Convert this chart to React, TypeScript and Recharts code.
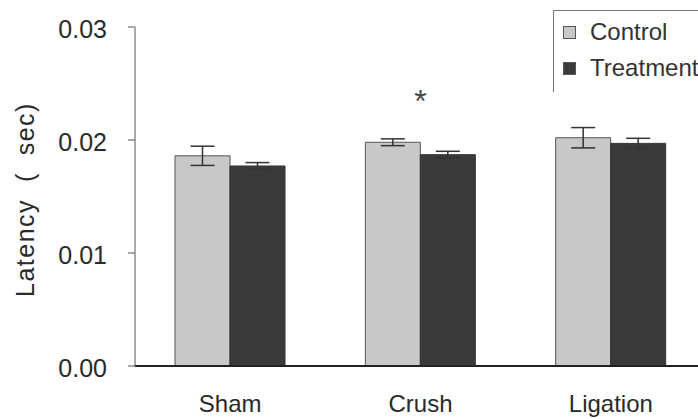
import React from 'react';
import { BarChart, Bar, XAxis, YAxis, ErrorBar, Legend, ReferenceDot } from 'recharts';

const groups = ['Sham', 'Crush', 'Ligation'];
const controlMean = [0.0186, 0.0198, 0.0202];
const controlErr = [0.00085, 0.0003, 0.0009];
const treatmentMean = [0.0177, 0.0187, 0.0197];
const treatmentErr = [0.0003, 0.0003, 0.00045];
const yTicks = [0, 0.01, 0.02, 0.03];
const significance = ['', '*', ''];
const seriesNames = ['Control', 'Treatment'];

const data = groups.map((g, i) => ({
  group: g,
  control: controlMean[i],
  controlErr: controlErr[i],
  treatment: treatmentMean[i],
  treatmentErr: treatmentErr[i],
}));

const FONT = '"Liberation Sans", Arial, sans-serif';
const TEXT = '#2a2a2a';
const CONTROL_FILL = '#c8c8c8';
const TREAT_FILL = '#3a3a3a';
const STAR_Y = 0.0235;

const LegendBox = (props: any) => {
  const payload = props.payload || [];
  return (
    <div
      style={{
        borderTop: '1px solid #777',
        borderLeft: '1px solid #777',
        padding: '3px 0 6px 9px',
        fontFamily: FONT,
        fontSize: 24,
        color: '#333',
        height: 82,
        boxSizing: 'border-box',
        background: '#fff',
      }}
    >
      {payload.map((p: any, i: number) => (
        <div key={i} style={{ display: 'flex', alignItems: 'center', height: 36, whiteSpace: 'nowrap' }}>
          <span
            style={{
              display: 'inline-block',
              width: 11,
              height: 11,
              background: p.color,
              border: '1px solid #555',
              marginRight: 14,
            }}
          />
          <span>{p.value}</span>
        </div>
      ))}
    </div>
  );
};

export default function App() {
  return (
    <div style={{ position: 'absolute', left: 0, top: 0, width: 698, height: 419, overflow: 'hidden', background: '#fff' }}>
      <BarChart
        width={706}
        height={419}
        data={data}
        margin={{ top: 27, right: 0, left: 0, bottom: 0 }}
        barCategoryGap={40}
        barGap={0}
      >
        <XAxis
          dataKey="group"
          height={53}
          tickLine={false}
          tickMargin={23}
          axisLine={{ stroke: '#222', strokeWidth: 1.8 }}
          tick={{ fontSize: 24, fill: TEXT, fontFamily: FONT }}
        />
        <YAxis
          width={135}
          domain={[0, 0.03]}
          ticks={yTicks}
          tickFormatter={(v: number) => v.toFixed(2)}
          tickSize={7}
          tickMargin={21}
          axisLine={{ stroke: '#555', strokeWidth: 1 }}
          tickLine={{ stroke: '#555', strokeWidth: 1 }}
          tick={{ fontSize: 25, fill: TEXT, fontFamily: FONT, dy: 2 }}
          label={{
            value: 'Latency\u00A0\u00A0(\u00A0\u00A0sec)',
            angle: -90,
            position: 'center',
            dx: -42,
            dy: 3,
            style: { fontSize: 25, fill: TEXT, fontFamily: FONT, letterSpacing: 1.5 },
          }}
        />
        <Legend
          layout="vertical"
          align="center"
          verticalAlign="middle"
          wrapperStyle={{ left: 553, top: 10, width: 170 }}
          content={<LegendBox />}
        />
        <Bar dataKey="control" name={seriesNames[0]} fill={CONTROL_FILL} stroke="#555" strokeWidth={1} isAnimationActive={false}>
          <ErrorBar dataKey="controlErr" width={12} stroke="#333" strokeWidth={1.5} />
        </Bar>
        <Bar dataKey="treatment" name={seriesNames[1]} fill={TREAT_FILL} stroke="#333" strokeWidth={1} isAnimationActive={false}>
          <ErrorBar dataKey="treatmentErr" width={12} stroke="#333" strokeWidth={1.5} />
        </Bar>
        {groups.map((g, i) =>
          significance[i] ? (
            <ReferenceDot
              key={g}
              x={g}
              y={STAR_Y}
              r={0}
              fill="none"
              stroke="none"
              label={{ value: significance[i], position: 'center', fontSize: 32, fill: '#444', fontFamily: FONT }}
            />
          ) : null
        )}
      </BarChart>
    </div>
  );
}
